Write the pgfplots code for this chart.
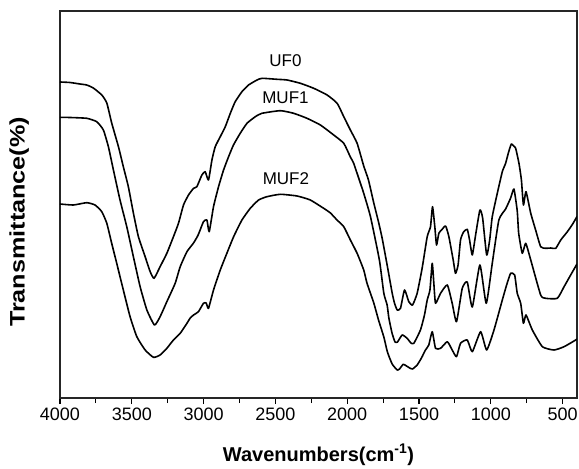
\documentclass[border=0pt]{standalone}
\usepackage{pgfplots}
\pgfplotsset{compat=1.18}
\usepackage{fontspec}
\setmainfont{Liberation Sans}
\tikzset{curve/.style={black, line width=1.6pt, line join=round, smooth, tension=0.3}}
\begin{document}
\begin{tikzpicture}
\useasboundingbox (-60pt,-71pt) rectangle (519pt,398pt);
\begin{axis}[
  scale only axis,
  width=517pt, height=387pt,
  x dir=reverse,
  xmin=400, xmax=4000,
  ymin=0, ymax=387,
  ytick=\empty,
  xtick={500,1000,...,4000},
  minor xtick={750,1250,...,3750},
  tick align=outside,
  xtick pos=bottom,
  major tick length=6pt,
  minor tick length=5pt,
  every tick/.style={black, line width=1.1pt},
  scaled x ticks=false,
  /pgf/number format/1000 sep={},
  /pgf/number format/assume math mode=true,
  xticklabel style={font=\fontsize{18}{20}\selectfont},
  axis line style={line width=1.3pt, black!85},
  xlabel={\bfseries Wavenumbers(cm\textsuperscript{-1})},
  xlabel style={font=\fontsize{20}{22}\selectfont, at={(axis description cs:0.5,-0.147)}, anchor=center},
  ylabel={\scalebox{1.2}[1]{\bfseries Transmittance(\%)}},
  ylabel style={font=\fontsize{21}{23}\selectfont, at={(axis description cs:-0.079,0.455)}, anchor=center},
  clip=true,
]
% UF0
\addplot[curve] table {
4000 316
3930 315.5
3861 314
3814 313
3768 310
3709 303
3674 295
3640 275
3593 251.3
3559 231.3
3524 211.3
3489 185
3454 161.3
3407 141.3
3372 126.3
3345 119.7
3303 131.3
3256 144.7
3210 161.3
3175 174.7
3140 193
3105 203
3070 209.7
3047 211.3
3012 223
2989 226.3
2966 218
2942 238
2919 251.3
2884 261.3
2849 271.3
2814 284.7
2780 296.3
2733 306.3
2687 313
2628 318
2593 319.7
2489 318.7
2419 318
2326 314.7
2233 309.7
2140 303
2070 294.7
2024 281.3
1978 268
1931 254.7
1885 232
1852 218
1815 195
1782 176
1757 160
1722 133
1687 105
1671 95
1652 88
1629 89.7
1601 108
1571 96.3
1545 93
1513 104.7
1478 130
1443 161.3
1420 171.3
1406 191.3
1390 171.3
1378 153
1362 164.7
1343 168
1315 172
1292 161.3
1262 138
1246 124.7
1228 133
1211 158
1190 166
1164 168.7
1148 158
1129 143
1106 163
1076 188
1057 180
1029 143
1008 158
990 181.3
955 204.7
920 226.3
897 234.7
876 246
857 254
841 252
827 249.7
804 234.7
787 218
773 193
755 206.3
722 184.7
688 168
653 151.3
618 149.7
583 150
548 149.7
513 158
467 166.3
430 174
400 181.5
};
% MUF1
\addplot[curve] table {
4000 280.7
3930 280.5
3814 279.7
3744 276.3
3698 268
3663 251.3
3628 228
3582 198
3535 171.3
3489 141.3
3442 111.3
3395 88
3342 73
3303 81.3
3256 96.3
3198 114.7
3163 131.3
3116 146.3
3070 155
3038 163
3001 176.3
2977 178
2961 166.3
2931 191.3
2896 211.3
2861 228
2826 241.3
2792 253
2745 264.7
2698 274.7
2640 281.3
2594 284.7
2466 287.3
2373 284.7
2280 279.7
2187 273
2094 263
2024 254.7
1978 241
1955 234.7
1908 214.7
1885 204.7
1838 181.3
1776 138
1745 104.7
1722 93
1710 80
1688 65
1667 56
1650 56
1617 63
1583 59.7
1556 55
1536 54.7
1490 68
1462 83
1443 98
1424 108
1408 134.7
1396 113
1385 94.7
1350 104.7
1303 113
1269 94.7
1239 76.3
1199 109.7
1164 116
1129 91
1076 133
1032 94.7
990 134.7
944 178
897 189
862 200
839 209
816 187
806 164.7
781 144.7
757 154.7
722 138
653 103
618 99.7
537 99.7
490 111.3
444 123
400 134
};
% MUF2
\addplot[curve] table {
4000 194
3907 193
3814 195.3
3756 193
3709 186.3
3674 174.7
3640 154.7
3605 134.7
3559 108
3512 81.3
3465 61.3
3407 48
3349 40.7
3303 43
3256 49.7
3210 58
3163 64.7
3116 74.7
3093 80
3070 83
3036 86.3
3001 94.7
2982 95
2966 89.7
2931 108
2884 128
2838 144.7
2791 161.3
2733 178
2675 189.7
2617 198
2559 201.3
2466 203.7
2349 202
2257 198
2164 189.7
2117 185
2071 178
2024 171.3
1978 158
1931 144.7
1885 128
1862 114.7
1815 95
1782 78
1745 61
1720 46
1687 34
1652 28
1636 29
1610 33.7
1587 32
1559 29.5
1545 29
1513 33
1483 40
1455 48
1432 53
1408 66.3
1385 49.7
1350 49.7
1303 56.3
1269 48
1239 41.3
1211 54.7
1164 58
1129 46.3
1071 66.3
1029 48
978 68
920 98
890 113
862 124.7
834 123
816 104.7
792 94.7
773 74.7
755 83
711 68
641 51.3
560 48
490 51.3
409 58
400 59
};
\node[font=\fontsize{17}{19}\selectfont] at (axis cs:2430,337) {UF0};
\node[font=\fontsize{17}{19}\selectfont] at (axis cs:2430,300) {MUF1};
\node[font=\fontsize{17}{19}\selectfont] at (axis cs:2427,219) {MUF2};
\end{axis}
\end{tikzpicture}
\end{document}
